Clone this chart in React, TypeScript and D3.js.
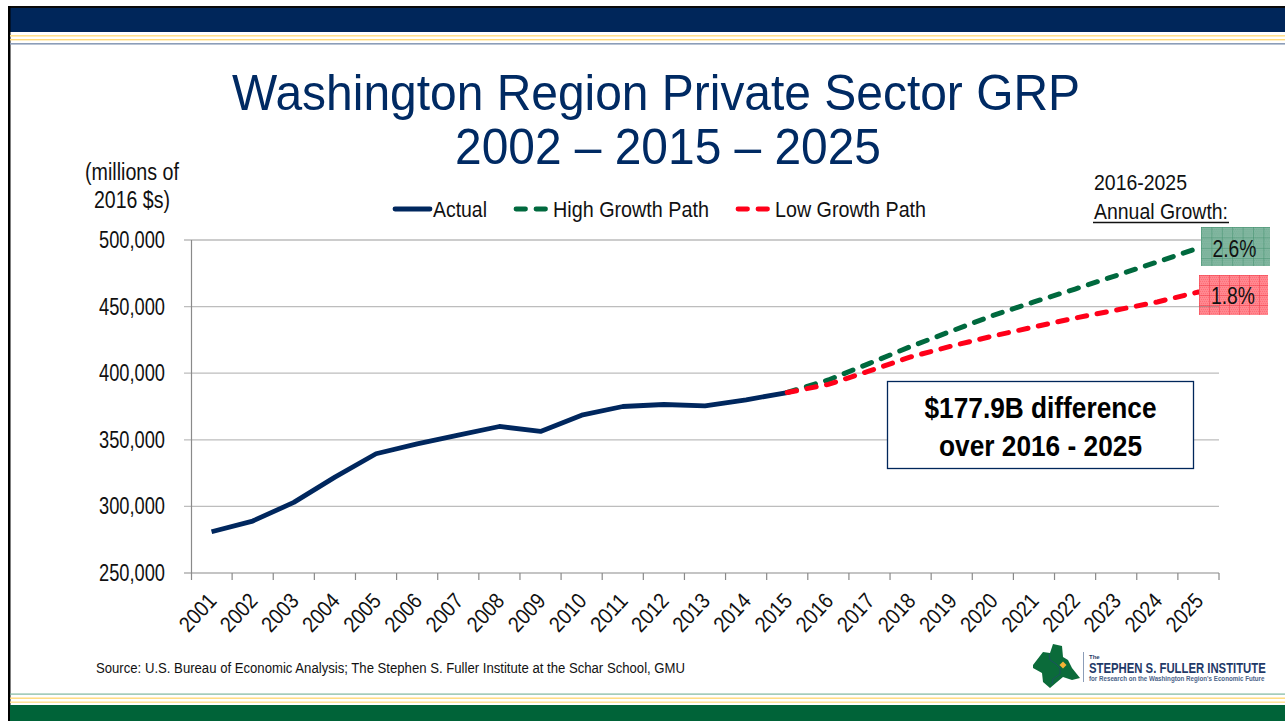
import React from "react";
import * as d3 from "d3";

const years = ["2001","2002","2003","2004","2005","2006","2007","2008","2009","2010","2011","2012","2013","2014","2015","2016","2017","2018","2019","2020","2021","2022","2023","2024","2025"];
const actual = [281000,289000,303000,322000,339500,347000,353500,360000,356300,368500,375000,376500,375500,380000,385500];
const highYears = years.slice(14);
const highPath = [385500,394900,407400,420000,431700,443300,453500,463200,473300,483500,494000];
const lowPath = [385500,391600,401700,412200,420400,427900,434700,441400,447400,453500,461000];
const yTicks = [250000,300000,350000,400000,450000,500000];
const legendItems = [
  { label: "Actual", color: "#00275E", dash: "none", x1: 395, x2: 430, tx: 433, len: 54 },
  { label: "High Growth Path", color: "#00693E", dash: "9.5 10.5", x1: 516, x2: 548, tx: 553, len: 156 },
  { label: "Low Growth Path", color: "#FF0019", dash: "9.5 10.5", x1: 738, x2: 770, tx: 775, len: 151 },
];
const logoShape: [number, number][] = [[1033,665],[1043,652],[1050,653],[1053,644],[1062,646],[1063,657],[1068,660],[1072,668],[1080,678],[1072,680],[1063,677],[1057,682],[1050,688],[1043,682],[1042,673],[1033,668]];
const logoRiver: [number, number][] = [[1049,654],[1050,660],[1056,664],[1060,668],[1060,674],[1053,679],[1052,684]];

const FONT = "'Liberation Sans', Arial, sans-serif";

export default function App() {
  const x = d3.scaleBand<string>().domain(years).range([191, 1219]);
  const y = d3.scaleLinear().domain([250000, 500000]).range([573, 240]);
  const cx = (yr: string) => (x(yr) as number) + x.bandwidth() / 2;
  const line = d3.line<[string, number]>().x((d) => cx(d[0])).y((d) => y(d[1]));
  const actualD = line(years.slice(0, 15).map((yr, i) => [yr, actual[i]] as [string, number]))!;
  const highD = line(highYears.map((yr, i) => [yr, highPath[i]] as [string, number]))!;
  const lowD = line(highYears.map((yr, i) => [yr, lowPath[i]] as [string, number]))!;
  const logoD = d3.line().curve(d3.curveLinearClosed)(logoShape)!;
  const riverD = d3.line()(logoRiver)!;

  return (
    <svg width={1285} height={721} style={{ position: "absolute", left: 0, top: 0, background: "#fff" }} fontFamily={FONT}>
      <defs>
        <pattern id="gHatch" width="10.4" height="10.4" patternUnits="userSpaceOnUse" x="1201" y="227">
          <rect width="10.4" height="10.4" fill="#84B8A2" />
          <path d="M0 0h1v1h-1zM2 0h1v1h-1zM4 0h1v1h-1zM6 0h1v1h-1zM8 0h1v1h-1zM1 2h1v1h-1zM3 2h1v1h-1zM5 2h1v1h-1zM7 2h1v1h-1zM9 2h1v1h-1zM0 4h1v1h-1zM2 4h1v1h-1zM4 4h1v1h-1zM6 4h1v1h-1zM8 4h1v1h-1zM1 6h1v1h-1zM3 6h1v1h-1zM5 6h1v1h-1zM7 6h1v1h-1zM9 6h1v1h-1zM0 8h1v1h-1zM2 8h1v1h-1zM4 8h1v1h-1zM6 8h1v1h-1zM8 8h1v1h-1z" fill="#6FAB91" />
          <path d="M0 0H10.4M0 0V10.4" stroke="#3F8F6C" strokeWidth="1" />
        </pattern>
        <pattern id="rHatch" width="10" height="10" patternUnits="userSpaceOnUse" x="1199" y="275">
          <rect width="10" height="10" fill="#FF8890" />
          <path d="M0 0h1v1h-1zM2 0h1v1h-1zM4 0h1v1h-1zM6 0h1v1h-1zM8 0h1v1h-1zM1 2h1v1h-1zM3 2h1v1h-1zM5 2h1v1h-1zM7 2h1v1h-1zM9 2h1v1h-1zM0 4h1v1h-1zM2 4h1v1h-1zM4 4h1v1h-1zM6 4h1v1h-1zM8 4h1v1h-1zM1 6h1v1h-1zM3 6h1v1h-1zM5 6h1v1h-1zM7 6h1v1h-1zM9 6h1v1h-1zM0 8h1v1h-1zM2 8h1v1h-1zM4 8h1v1h-1zM6 8h1v1h-1zM8 8h1v1h-1z" fill="#FF6E78" />
          <path d="M0 0H10M0 0V10" stroke="#F23B48" strokeWidth="1" />
        </pattern>
      </defs>

      {/* slide frame */}
      <rect x={8} y={6} width={1277} height={26} fill="#00265A" />
      <rect x={8} y={6} width={1277} height={2} fill="#0a0a0a" />
      <rect x={8} y={6} width={2.5} height={715} fill="#000" />
      <rect x={10} y={35} width={1275} height={1.6} fill="#FFE08F" />
      <rect x={10} y={39} width={1275} height={1.4} fill="#FFD976" />
      <rect x={10} y={43} width={1275} height={1.6} fill="#8C9DB8" />
      <rect x={10} y={693.5} width={1275} height={1.2} fill="#7FB79E" />
      <rect x={10} y={697.5} width={1275} height={1.4} fill="#FFD976" />
      <rect x={10} y={701.5} width={1275} height={1.4} fill="#FFE08F" />
      <rect x={10} y={705} width={1275} height={16} fill="#006338" />

      {/* title */}
      <text x={656} y={110} textAnchor="middle" fontSize={50} fill="#002A63" textLength={848} lengthAdjust="spacingAndGlyphs">Washington Region Private Sector GRP</text>
      <text x={668} y={164} textAnchor="middle" fontSize={50} fill="#002A63" textLength={426} lengthAdjust="spacingAndGlyphs">2002 – 2015 – 2025</text>

      {/* unit label */}
      <text x={132} y={180} textAnchor="middle" fontSize={23} fill="#111" textLength={94} lengthAdjust="spacingAndGlyphs">(millions of</text>
      <text x={132} y={208} textAnchor="middle" fontSize={23} fill="#111" textLength={76} lengthAdjust="spacingAndGlyphs">2016 $s)</text>

      {/* grid & axes */}
      {yTicks.map((t) => (
        <g key={t}>
          <line x1={184} x2={1219} y1={y(t)} y2={y(t)} stroke={t === 250000 ? "#8a8a8a" : t === 500000 ? "#999" : "#bdbdbd"} strokeWidth={1.2} />
          <text x={165} y={y(t) + 8} textAnchor="end" fontSize={23} fill="#111" textLength={66} lengthAdjust="spacingAndGlyphs">{d3.format(",")(t)}</text>
        </g>
      ))}
      <line x1={191.5} x2={191.5} y1={240} y2={580} stroke="#8a8a8a" strokeWidth={1.2} />
      {years.map((yr) => (
        <g key={yr}>
          <line x1={(x(yr) as number) + x.bandwidth()} x2={(x(yr) as number) + x.bandwidth()} y1={573} y2={580} stroke="#8a8a8a" strokeWidth={1.2} />
          <text transform={`translate(${cx(yr) + 2},${598}) rotate(-47)`} textAnchor="end" dominantBaseline="middle" fontSize={22} fill="#111" textLength={43} lengthAdjust="spacingAndGlyphs">{yr}</text>
        </g>
      ))}

      {/* series */}
      <path d={actualD} fill="none" stroke={legendItems[0].color} strokeWidth={4.8} strokeLinejoin="round" />
      <path d={highD} fill="none" stroke={legendItems[1].color} strokeWidth={5} strokeDasharray="9.5 10.5" strokeLinecap="round" />
      <path d={lowD} fill="none" stroke={legendItems[2].color} strokeWidth={5} strokeDasharray="9.5 10.5" strokeLinecap="round" />

      {/* legend */}
      {legendItems.map((l) => (
        <g key={l.label}>
          <line x1={l.x1} x2={l.x2} y1={209} y2={209} stroke={l.color} strokeWidth={4.8} strokeDasharray={l.dash} strokeLinecap="round" />
          <text x={l.tx} y={216.5} fontSize={22} fill="#111" textLength={l.len} lengthAdjust="spacingAndGlyphs">{l.label}</text>
        </g>
      ))}

      {/* growth boxes */}
      <text x={1094} y={190} fontSize={22} fill="#111" textLength={93} lengthAdjust="spacingAndGlyphs">2016-2025</text>
      <text x={1094} y={219} fontSize={22} fill="#111" textLength={134} lengthAdjust="spacingAndGlyphs">Annual Growth:</text>
      <line x1={1093} x2={1229} y1={222.5} y2={222.5} stroke="#111" strokeWidth={1.5} />
      <rect x={1201} y={227} width={69} height={39} fill="url(#gHatch)" />
      <rect x={1199} y={275} width={69} height={40} fill="url(#rHatch)" />
      <line x1={1199} x2={1219} y1={y(450000)} y2={y(450000)} stroke="#777" strokeWidth={1.2} opacity={0.45} />
      <text x={1234.5} y={257} textAnchor="middle" fontSize={23} fill="#111" textLength={44} lengthAdjust="spacingAndGlyphs">2.6%</text>
      <text x={1233} y={304} textAnchor="middle" fontSize={23} fill="#111" textLength={44} lengthAdjust="spacingAndGlyphs">1.8%</text>

      {/* callout */}
      <rect x={887.5} y={381.5} width={306} height={87} fill="#fff" stroke="#00265A" strokeWidth={1.3} />
      <text x={1040.5} y={418} textAnchor="middle" fontSize={30} fontWeight={700} fill="#000" textLength={232} lengthAdjust="spacingAndGlyphs">$177.9B difference</text>
      <text x={1040.5} y={456} textAnchor="middle" fontSize={30} fontWeight={700} fill="#000" textLength={203} lengthAdjust="spacingAndGlyphs">over 2016 - 2025</text>

      {/* source */}
      <text x={96} y={673} fontSize={14} fill="#111" textLength={589} lengthAdjust="spacingAndGlyphs">Source: U.S. Bureau of Economic Analysis; The Stephen S. Fuller Institute at the Schar School, GMU</text>

      {/* logo */}
      <path d={logoD} fill="#0B6B3A" />
      <path d={riverD} fill="none" stroke="#1F4A6B" strokeWidth={0.8} />
      <path d="M1063 661.5L1066.5 665L1063 668.5L1059.5 665Z" fill="#F5B335" />
      <line x1={1083.5} x2={1083.5} y1={652} y2={682} stroke="#8C9DB8" strokeWidth={1} />
      <text x={1089} y={659} fontSize={6} fontWeight={700} fill="#1F3A68">The</text>
      <text transform="translate(1089,673) scale(0.81,1)" fontSize={14} fontWeight={700} fill="#1F3A68">STEPHEN S. FULLER INSTITUTE</text>
      <text transform="translate(1089,681) scale(0.83,1)" fontSize={7.5} fontWeight={700} fill="#4A6288">for Research on the Washington Region's Economic Future</text>
    </svg>
  );
}
